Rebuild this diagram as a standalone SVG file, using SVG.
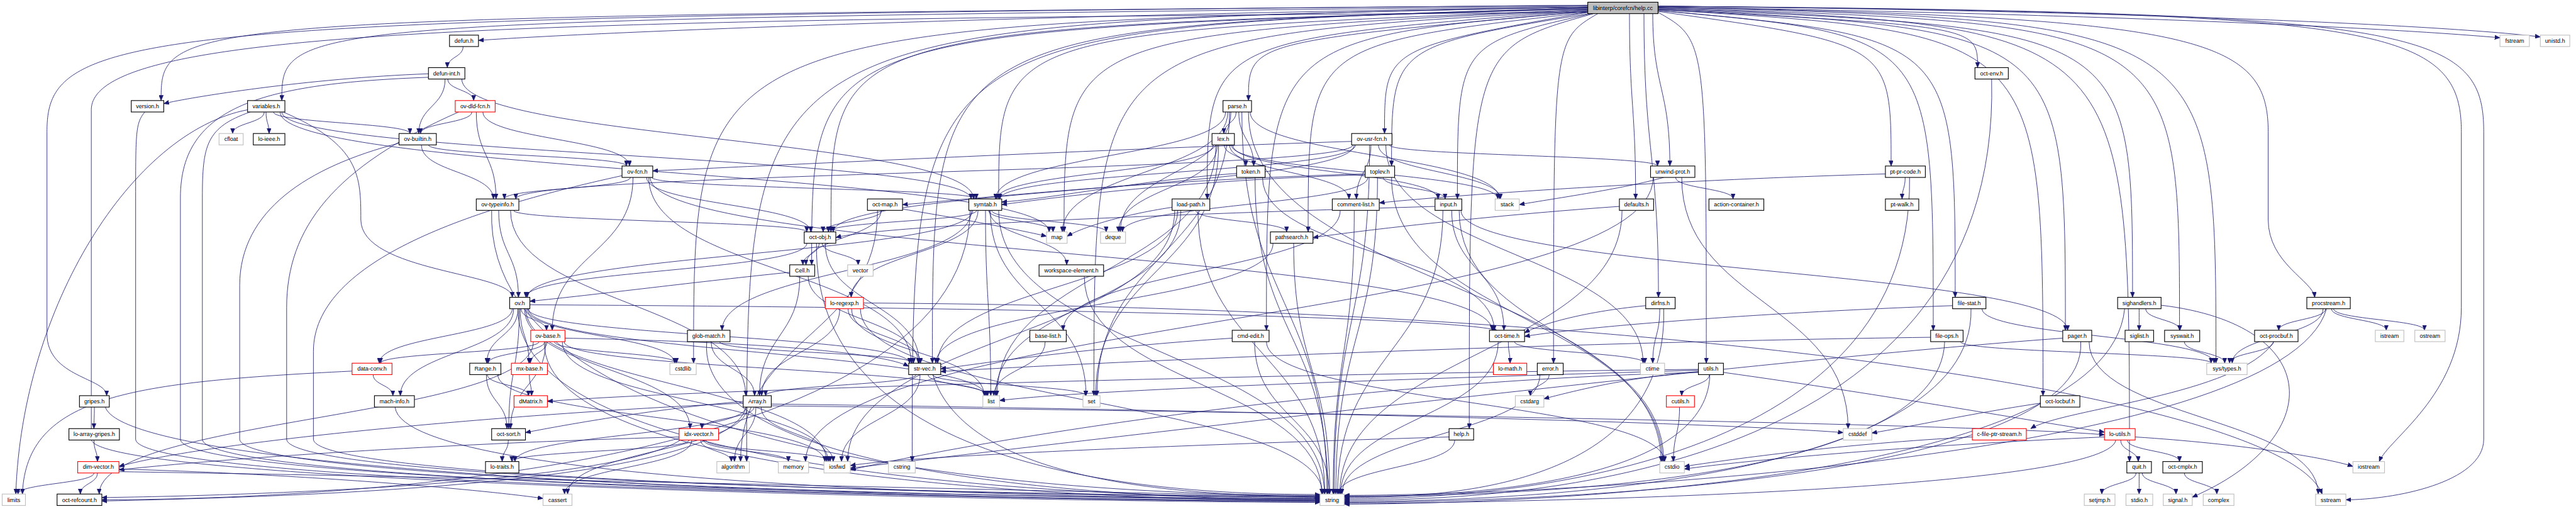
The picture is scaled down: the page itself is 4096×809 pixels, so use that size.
<svg xmlns="http://www.w3.org/2000/svg" width="4096" height="809" viewBox="0 0 4096 809">
<style>
.e path{fill:none;stroke:#191970;stroke-width:1.2;marker-end:url(#a)}
.n rect{fill:#fff;stroke:#000;stroke-width:1.6}
.r rect{stroke:#ff0000}
.g rect{stroke:#bfbfbf}
.h rect{fill:#bfbfbf}
.n text{font-family:"Liberation Sans",Arial,sans-serif;font-size:13px;text-anchor:middle;fill:#000}
</style>
<defs>
<marker id="a" markerWidth="12" markerHeight="10" refX="12" refY="5" orient="auto" markerUnits="userSpaceOnUse"><path d="M0,0L12,5L0,10z" fill="#191970" stroke="#191970" stroke-width="0.8"/></marker>
</defs>
<rect width="4096" height="809" fill="#fff"/>
<g transform="scale(0.698)">
<g id="edges" class="e">
<path d="M3617,12 C367,40 367,40 367,229"/>
<path d="M3617,14 C642,48 642,48 642,229"/>
<path d="M3617,16 C2500,30 1400,70 1090,92"/>
<path d="M3617,12 C300,40 107,60 107,300 L107,760 C107,860 243,860 243,901"/>
<path d="M3617,20 C1849,70 1849,70 1849,603"/>
<path d="M3617,20 C1893,66 1893,66 1893,528"/>
<path d="M3617,22 C2275,75 2275,75 2275,453"/>
<path d="M3617,18 C2124,62 2124,62 2124,827"/>
<path d="M3617,16 C1580,58 1580,58 1580,827"/>
<path d="M3617,16 C1701,54 1701,54 1701,1051"/>
<path d="M3617,18 C2078,64 2078,64 2078,1051"/>
<path d="M3617,22 C2424,80 2424,80 2424,528"/>
<path d="M3617,24 C2492,85 2492,85 2492,901"/>
<path d="M3617,24 C2750,90 2750,90 2750,453"/>
<path d="M3617,26 C2844,95 2844,95 2844,229"/>
<path d="M3617,26 C2885,88 2885,88 2885,752"/>
<path d="M3617,28 C2980,100 2980,100 2980,528"/>
<path d="M3617,28 C1200,45 208,60 208,250 L208,1000 C208,1105 2500,1144 3007,1144"/>
<path d="M3617,28 C3154,110 3154,110 3154,304"/>
<path d="M3620,31 C3170,105 3170,105 3170,378"/>
<path d="M3625,31 C3320,100 3320,100 3320,453"/>
<path d="M3630,31 C3347,110 3347,110 3347,976"/>
<path d="M3640,31 C3539,90 3539,90 3539,827"/>
<path d="M3712,31 C3712,240 3726,240 3726,453"/>
<path d="M3745,31 C3745,350 3778,350 3778,677"/>
<path d="M3765,31 C3765,200 3804,200 3804,378"/>
<path d="M3777,28 C3887,90 3887,90 3887,827"/>
<path d="M3777,26 C4308,100 4308,100 4308,378"/>
<path d="M3777,24 C4404,80 4404,80 4404,752"/>
<path d="M3777,24 C4454,85 4454,85 4454,677"/>
<path d="M3777,22 C4505,60 4505,60 4505,154"/>
<path d="M3777,22 C4654,75 4654,75 4654,901"/>
<path d="M3777,20 C4705,70 4705,70 4705,752"/>
<path d="M3777,20 C4858,65 4858,65 4858,677"/>
<path d="M3777,18 C4851,60 4851,60 4851,1051"/>
<path d="M3777,18 C4965,55 4965,55 4965,752"/>
<path d="M3777,16 C5048,50 5048,50 5048,827"/>
<path d="M3777,16 C5000,40 5167,80 5167,300 L5167,500 C5167,600 5270,640 5273,677"/>
<path d="M3777,14 C5400,30 5607,50 5607,300 L5607,700 C5607,900 5440,1000 5420,1051"/>
<path d="M3777,14 C5500,28 5658,60 5658,300 L5658,1000 C5658,1100 5450,1138 5344,1138"/>
<path d="M3777,16 C4700,30 5400,60 5695,86"/>
<path d="M3777,14 C4800,24 5550,55 5787,84"/>
<path d="M1055,106 C1055,130 1019,130 1019,154"/>
<path d="M976,176 C600,190 411,240 411,450 L411,1000 C411,1105 2500,1136 3007,1136"/>
<path d="M1014,180 C1014,242 954,242 954,304"/>
<path d="M1020,180 C1020,205 1079,205 1079,229"/>
<path d="M1052,180 C1052,316 2218,316 2218,453"/>
<path d="M976,168 C700,178 430,222 373,236"/>
<path d="M330,255 C309,280 309,300 309,450 L309,1000 C309,1108 2500,1140 3007,1140"/>
<path d="M602,255 C602,280 530,280 530,304"/>
<path d="M606,255 C606,280 613,280 613,304"/>
<path d="M623,255 C623,280 934,280 934,304"/>
<path d="M642,255 C642,354 2212,354 2212,453"/>
<path d="M645,255 C820,330 822,400 822,500 C822,620 1167,620 1167,677"/>
<path d="M638,255 C638,392 2390,392 2390,528"/>
<path d="M570,255 C470,290 461,330 461,450 L461,1000 C461,1105 2500,1142 3007,1142"/>
<path d="M564,250 C300,300 50,700 36,1125"/>
<path d="M909,326 C700,380 546,480 546,650 L546,1000 C546,1100 2500,1138 3007,1138"/>
<path d="M976,330 C976,354 1427,354 1427,378"/>
<path d="M960,330 C960,392 1124,392 1124,453"/>
<path d="M1075,255 C1075,280 958,280 958,304"/>
<path d="M1100,255 C1100,317 1434,317 1434,378"/>
<path d="M1085,255 C1085,354 1130,354 1130,453"/>
<path d="M1045,255 C760,380 653,520 653,700 L653,1000 C653,1100 2500,1130 3007,1130"/>
<path d="M1436,404 C1436,429 1149,429 1149,453"/>
<path d="M1473,404 C1473,466 1847,466 1847,528"/>
<path d="M1442,404 C1442,578 1258,578 1258,752"/>
<path d="M1481,404 C1481,578 3399,578 3399,752"/>
<path d="M1478,404 C1478,616 2076,616 2076,827"/>
<path d="M1485,404 C1485,429 2224,429 2224,453"/>
<path d="M1417,400 C1050,480 714,600 714,800 L714,1000 C714,1100 2500,1132 3007,1132"/>
<path d="M3157,330 C3157,579 3743,579 3743,827"/>
<path d="M3120,330 C3120,728 3039,728 3039,1125"/>
<path d="M3140,330 C3140,392 3418,392 3418,453"/>
<path d="M3123,330 C3123,392 3090,392 3090,453"/>
<path d="M3085,330 C3085,429 1898,429 1898,528"/>
<path d="M3079,322 C2500,340 1700,380 1487,389"/>
<path d="M3082,330 C3082,392 1175,392 1175,453"/>
<path d="M3088,330 C3088,392 2278,392 2278,453"/>
<path d="M3165,330 C3165,354 3776,354 3776,378"/>
<path d="M3170,404 C3170,728 3787,728 3787,1051"/>
<path d="M3116,404 C3116,466 2557,466 2557,528"/>
<path d="M3138,404 C3138,765 3043,765 3043,1125"/>
<path d="M3151,404 C3151,429 3292,429 3292,453"/>
<path d="M3110,396 C2600,410 2200,455 2056,466"/>
<path d="M3110,398 C2700,410 2400,450 2282,466"/>
<path d="M3324,479 C3324,765 3790,765 3790,1051"/>
<path d="M3287,479 C3287,802 3047,802 3047,1125"/>
<path d="M3307,479 C3307,616 3426,616 3426,752"/>
<path d="M3269,470 C2600,490 2000,515 1904,541"/>
<path d="M3328,479 C3328,616 4710,616 4710,752"/>
<path d="M3085,479 C3085,802 3037,802 3037,1125"/>
<path d="M3053,479 C3053,616 2422,616 2422,752"/>
<path d="M2773,330 C2773,429 2548,429 2548,528"/>
<path d="M2770,330 C2770,616 2271,616 2271,901"/>
<path d="M2776,330 C2776,616 2496,616 2496,901"/>
<path d="M2805,330 C2805,392 3412,392 3412,453"/>
<path d="M2801,330 C2801,392 3073,392 3073,453"/>
<path d="M2808,330 C2808,392 3276,392 3276,453"/>
<path d="M2764,330 C2764,392 2271,392 2271,453"/>
<path d="M2789,330 C2789,354 2838,354 2838,378"/>
<path d="M2844,255 C2844,653 3784,653 3784,1051"/>
<path d="M2804,255 C2804,392 2552,392 2552,528"/>
<path d="M2797,255 C2797,392 2420,392 2420,528"/>
<path d="M2801,255 C2801,578 2499,578 2499,901"/>
<path d="M2829,255 C2829,690 3023,690 3023,1125"/>
<path d="M2848,255 C2848,354 3416,354 3416,453"/>
<path d="M2816,255 C2816,280 2788,280 2788,304"/>
<path d="M2792,255 C2792,354 2268,354 2268,453"/>
<path d="M2822,255 C2822,317 2856,317 2856,378"/>
<path d="M2859,404 C2859,765 3025,765 3025,1125"/>
<path d="M2817,395 C2600,410 2400,452 2282,460"/>
<path d="M2876,404 C2876,578 3404,578 3404,752"/>
<path d="M3790,404 C3700,430 3520,455 3461,466"/>
<path d="M3817,404 C3817,429 3948,429 3948,453"/>
<path d="M3831,404 C3831,690 4210,690 4210,976"/>
<path d="M3766,404 C3766,728 1835,728 1835,1051"/>
<path d="M4340,404 C4340,429 4333,429 4333,453"/>
<path d="M4295,396 C3800,410 3300,445 3142,462"/>
<path d="M4350,404 C4360,1110 3300,1136 3062,1136"/>
<path d="M3695,479 C3695,802 3052,802 3052,1125"/>
<path d="M3689,470 C3400,490 3100,525 2991,541"/>
<path d="M2676,479 C2676,765 1931,765 1931,1051"/>
<path d="M2690,479 C2690,690 2268,690 2268,901"/>
<path d="M2670,472 C2550,490 2460,520 2431,538"/>
<path d="M2729,479 C2729,802 3018,802 3018,1125"/>
<path d="M2724,479 C2724,504 2931,504 2931,528"/>
<path d="M2683,479 C2683,653 2136,653 2136,827"/>
<path d="M2947,554 C2947,840 3029,840 3029,1125"/>
<path d="M2900,554 C2900,691 2132,691 2132,827"/>
<path d="M2259,479 C2259,504 2520,504 2520,528"/>
<path d="M2245,479 C2245,690 2257,690 2257,901"/>
<path d="M2252,479 C2252,504 2399,504 2399,528"/>
<path d="M2256,479 C2256,690 2474,690 2474,901"/>
<path d="M2275,479 C2275,802 3017,802 3017,1125"/>
<path d="M2213,479 C2213,616 1645,616 1645,752"/>
<path d="M2228,479 C2228,578 1939,578 1939,677"/>
<path d="M2225,479 C2225,504 1887,504 1887,528"/>
<path d="M2254,479 C2254,541 2430,541 2430,603"/>
<path d="M2210,479 C2200,1100 600,1138 232,1138"/>
<path d="M2216,479 C2216,578 1201,578 1201,677"/>
<path d="M1999,479 C1999,765 1687,765 1687,1051"/>
<path d="M2056,476 C2200,500 2330,525 2384,538"/>
<path d="M2007,479 C2007,541 1836,541 1836,603"/>
<path d="M2009,479 C2009,504 1875,504 1875,528"/>
<path d="M1120,479 C1100,1100 2650,1128 3007,1128"/>
<path d="M1163,479 C1163,690 1699,690 1699,901"/>
<path d="M1170,479 C1170,504 1838,504 1838,528"/>
<path d="M1136,479 C1136,578 1181,578 1181,677"/>
<path d="M1860,554 C1850,1100 2700,1126 3007,1126"/>
<path d="M1873,554 C1873,579 1955,579 1955,603"/>
<path d="M1880,554 C1880,691 2094,691 2094,827"/>
<path d="M1838,554 C1838,616 1198,616 1198,677"/>
<path d="M1866,554 C1866,579 1829,579 1829,603"/>
<path d="M1822,629 C1822,765 1730,765 1730,901"/>
<path d="M1841,629 C1841,728 2092,728 2092,827"/>
<path d="M1799,620 C1600,640 1350,672 1207,686"/>
<path d="M1201,703 C1201,765 1537,765 1537,827"/>
<path d="M1198,703 C1198,877 1883,877 1883,1051"/>
<path d="M1180,703 C1175,1110 2650,1134 3007,1134"/>
<path d="M1204,703 C1204,802 2245,802 2245,901"/>
<path d="M1180,703 C1180,765 1109,765 1109,827"/>
<path d="M1167,703 C1167,765 864,765 864,827"/>
<path d="M1195,703 C1195,840 1572,840 1572,976"/>
<path d="M1170,703 C1170,802 912,802 912,901"/>
<path d="M1185,703 C1185,765 1205,765 1205,827"/>
<path d="M1207,694 C2300,700 3300,722 3410,752"/>
<path d="M1203,703 C1203,765 2072,765 2072,827"/>
<path d="M1183,703 C1183,840 1159,840 1159,976"/>
<path d="M1187,703 C1187,728 1245,728 1245,752"/>
<path d="M1263,778 C1263,803 1541,803 1541,827"/>
<path d="M1281,778 C1281,915 1887,915 1887,1051"/>
<path d="M1285,778 C1285,840 2248,840 2248,901"/>
<path d="M1240,778 C1230,1110 2650,1140 3007,1140"/>
<path d="M1241,778 C1241,803 1112,803 1112,827"/>
<path d="M1228,778 C1228,803 867,803 867,827"/>
<path d="M1246,778 C1246,803 1208,803 1208,827"/>
<path d="M1287,770 C1700,778 2000,800 2070,834"/>
<path d="M1243,778 C1243,877 1163,877 1163,976"/>
<path d="M1215,778 C1215,952 226,952 226,1125"/>
<path d="M1134,853 C1134,952 1879,952 1879,1051"/>
<path d="M1110,853 C1110,877 1204,877 1204,901"/>
<path d="M1108,853 C1108,915 1155,915 1155,976"/>
<path d="M1206,853 C1206,877 1211,877 1211,901"/>
<path d="M802,845 C300,870 60,900 51,1125"/>
<path d="M850,853 C850,877 895,877 895,901"/>
<path d="M900,927 C920,1120 2650,1136 3007,1136"/>
<path d="M215,927 C215,952 214,952 214,976"/>
<path d="M240,927 C300,1110 2600,1142 3007,1142"/>
<path d="M214,1002 C214,1027 222,1027 222,1051"/>
<path d="M214,1077 C214,1101 41,1101 41,1125"/>
<path d="M222,1077 C222,1101 183,1101 183,1125"/>
<path d="M271,1068 C700,1080 1100,1115 1237,1135"/>
<path d="M271,1074 C1000,1085 2500,1120 3007,1132"/>
<path d="M1158,1002 C1158,1027 1144,1027 1144,1051"/>
<path d="M1702,927 C1702,1026 1293,1026 1293,1125"/>
<path d="M1757,920 C2500,930 3800,955 4199,985"/>
<path d="M1722,927 C1722,989 1673,989 1673,1051"/>
<path d="M1734,927 C1734,989 1898,989 1898,1051"/>
<path d="M1693,918 C1200,940 500,1000 271,1062"/>
<path d="M1718,927 C1718,952 1599,952 1599,976"/>
<path d="M1699,927 C1699,989 1173,989 1173,1051"/>
<path d="M1757,924 C3000,940 4500,965 4794,990"/>
<path d="M1693,914 C1500,930 1300,965 1197,985"/>
<path d="M1700,927 C1650,1110 600,1132 232,1141"/>
<path d="M1576,1002 C1576,1064 1286,1064 1286,1125"/>
<path d="M1596,1002 C1596,1027 1666,1027 1666,1051"/>
<path d="M1603,1002 C1603,1027 1796,1027 1796,1051"/>
<path d="M1608,1002 C1608,1027 1891,1027 1891,1051"/>
<path d="M1570,1002 C1570,1027 1166,1027 1166,1051"/>
<path d="M1547,995 C1000,1010 500,1045 271,1070"/>
<path d="M1550,1002 C1400,1100 600,1128 232,1133"/>
<path d="M2096,853 C2096,952 1917,952 1917,1051"/>
<path d="M2114,853 C2114,877 2250,877 2250,901"/>
<path d="M2125,853 C2125,877 2473,877 2473,901"/>
<path d="M2125,853 C2200,1100 2700,1130 3007,1130"/>
<path d="M2087,853 C2087,877 1744,877 1744,901"/>
<path d="M2381,778 C2381,840 2264,840 2264,901"/>
<path d="M1620,778 C1620,840 1719,840 1719,901"/>
<path d="M1639,778 C1639,803 2081,803 2081,827"/>
<path d="M1610,778 C1580,1110 2700,1138 3007,1138"/>
<path d="M1913,703 C1913,802 1735,802 1735,901"/>
<path d="M1932,703 C1932,765 2097,765 2097,827"/>
<path d="M1940,703 C1940,802 2242,802 2242,901"/>
<path d="M1967,690 C3800,700 5200,900 5290,1125"/>
<path d="M1960,703 C1960,914 3013,914 3013,1125"/>
<path d="M2470,629 C2470,877 3011,877 3011,1125"/>
<path d="M2885,778 C2885,915 3792,915 3792,1051"/>
<path d="M2858,778 C2858,952 3028,952 3028,1125"/>
<path d="M2807,770 C2500,790 2250,825 2143,840"/>
<path d="M3450,778 C3450,803 3747,803 3747,827"/>
<path d="M3413,778 C3413,952 3054,952 3054,1125"/>
<path d="M3436,778 C3436,803 3440,803 3440,827"/>
<path d="M3529,853 C3529,877 3486,877 3486,901"/>
<path d="M3508,853 C3508,989 3057,989 3057,1125"/>
<path d="M3781,703 C3781,765 3765,765 3765,827"/>
<path d="M3749,696 C3600,710 3500,742 3473,758"/>
<path d="M3790,703 C3800,1110 3300,1133 3062,1133"/>
<path d="M3301,995 C2800,1010 2100,1035 1937,1060"/>
<path d="M3314,1002 C3314,1064 3049,1064 3049,1125"/>
<path d="M4699,770 C4000,820 2500,1000 1937,1066"/>
<path d="M4759,778 C4759,952 5281,952 5281,1125"/>
<path d="M4740,778 C4760,1110 3400,1144 3062,1144"/>
<path d="M4430,778 C4420,1110 3400,1130 3062,1130"/>
<path d="M4466,778 C4466,803 5037,803 5037,827"/>
<path d="M4398,768 C3500,780 2500,825 2143,846"/>
<path d="M4448,696 C4000,712 3600,745 3473,766"/>
<path d="M4490,703 C4500,1110 3400,1142 3062,1142"/>
<path d="M4515,703 C4515,765 5044,765 5044,827"/>
<path d="M4537,180 C4560,1110 3400,1139 3062,1139"/>
<path d="M4873,703 C4873,728 4873,728 4873,752"/>
<path d="M4888,703 C4888,728 4966,728 4966,752"/>
<path d="M4923,695 C5300,740 5300,1000 4994,1132"/>
<path d="M4840,703 C4800,1110 3400,1148 3062,1148"/>
<path d="M4976,778 C4976,803 5068,803 5068,827"/>
<path d="M5311,703 C5311,728 5436,728 5436,752"/>
<path d="M5316,703 C5316,728 5523,728 5523,752"/>
<path d="M5292,703 C5292,765 5085,765 5085,827"/>
<path d="M5298,703 C5298,728 5191,728 5191,752"/>
<path d="M5300,703 C5200,1050 3500,1128 3062,1128"/>
<path d="M5179,778 C5179,803 5079,803 5079,827"/>
<path d="M5180,778 C5100,900 4700,930 4626,976"/>
<path d="M4493,995 C4200,1010 3950,1045 3837,1062"/>
<path d="M4648,918 C4500,940 4350,972 4264,986"/>
<path d="M3869,846 C3700,860 3580,892 3517,908"/>
<path d="M3869,848 C3000,870 2200,1010 1937,1070"/>
<path d="M3895,853 C3890,1110 3300,1131 3062,1131"/>
<path d="M3869,843 C3300,860 2500,885 2277,912"/>
<path d="M3869,841 C3000,850 1600,885 1247,914"/>
<path d="M3926,848 C4300,900 4650,962 4794,984"/>
<path d="M3894,853 C3894,877 3831,877 3831,901"/>
<path d="M3826,927 C3826,989 3812,989 3812,1051"/>
<path d="M4794,995 C4400,1012 4000,1045 3837,1068"/>
<path d="M4864,995 C5100,1010 5300,1042 5360,1062"/>
<path d="M4820,1002 C4800,1120 3400,1146 3062,1146"/>
<path d="M4831,1002 C4831,1027 4871,1027 4871,1051"/>
<path d="M4846,1002 C4846,1027 4965,1027 4965,1051"/>
<path d="M4866,1077 C4866,1101 4788,1101 4788,1125"/>
<path d="M4873,1077 C4873,1101 4873,1101 4873,1125"/>
<path d="M4880,1077 C4880,1101 4957,1101 4957,1125"/>
<path d="M4976,1077 C4976,1101 5050,1101 5050,1125"/>
</g>
<g id="nodes">
<g id="n-helpcc" class="n h"><rect x="3617" y="5" width="160" height="26"/><text x="3697" y="23">libinterp/corefcn/help.cc</text></g>
<g id="n-defun" class="n"><rect x="1024" y="80" width="66" height="26"/><text x="1057" y="97">defun.h</text></g>
<g id="n-fstream" class="n g"><rect x="5695" y="80" width="67" height="26"/><text x="5728.5" y="97">fstream</text></g>
<g id="n-unistd" class="n g"><rect x="5787" y="80" width="67" height="26"/><text x="5820.5" y="97">unistd.h</text></g>
<g id="n-defunint" class="n"><rect x="976" y="154" width="83" height="26"/><text x="1017.5" y="172">defun-int.h</text></g>
<g id="n-octenv" class="n"><rect x="4499" y="154" width="76" height="26"/><text x="4537" y="172">oct-env.h</text></g>
<g id="n-version" class="n"><rect x="299" y="229" width="74" height="26"/><text x="336" y="246">version.h</text></g>
<g id="n-variables" class="n"><rect x="564" y="229" width="85" height="26"/><text x="606.5" y="246">variables.h</text></g>
<g id="n-ovdld" class="n r"><rect x="1037" y="229" width="91" height="26"/><text x="1082.5" y="246">ov-dld-fcn.h</text></g>
<g id="n-parse" class="n"><rect x="2786" y="229" width="65" height="26"/><text x="2818.5" y="246">parse.h</text></g>
<g id="n-cfloat" class="n g"><rect x="499" y="304" width="55" height="26"/><text x="526.5" y="321">cfloat</text></g>
<g id="n-loieee" class="n"><rect x="577" y="304" width="72" height="26"/><text x="613" y="321">lo-ieee.h</text></g>
<g id="n-ovbuiltin" class="n"><rect x="909" y="304" width="85" height="26"/><text x="951.5" y="321">ov-builtin.h</text></g>
<g id="n-lex" class="n"><rect x="2761" y="304" width="51" height="26"/><text x="2786.5" y="321">lex.h</text></g>
<g id="n-ovusr" class="n"><rect x="3079" y="304" width="92" height="26"/><text x="3125" y="321">ov-usr-fcn.h</text></g>
<g id="n-ovfcn" class="n"><rect x="1417" y="378" width="70" height="26"/><text x="1452" y="396">ov-fcn.h</text></g>
<g id="n-token" class="n"><rect x="2817" y="378" width="65" height="26"/><text x="2849.5" y="396">token.h</text></g>
<g id="n-toplev" class="n"><rect x="3110" y="378" width="67" height="26"/><text x="3143.5" y="396">toplev.h</text></g>
<g id="n-unwind" class="n"><rect x="3760" y="378" width="101" height="26"/><text x="3810.5" y="396">unwind-prot.h</text></g>
<g id="n-ptpr" class="n"><rect x="4295" y="378" width="91" height="26"/><text x="4340.5" y="396">pt-pr-code.h</text></g>
<g id="n-ovtype" class="n"><rect x="1085" y="453" width="97" height="26"/><text x="1133.5" y="470">ov-typeinfo.h</text></g>
<g id="n-octmap" class="n"><rect x="1976" y="453" width="80" height="26"/><text x="2016" y="470">oct-map.h</text></g>
<g id="n-symtab" class="n"><rect x="2207" y="453" width="75" height="26"/><text x="2244.5" y="470">symtab.h</text></g>
<g id="n-loadpath" class="n"><rect x="2670" y="453" width="86" height="26"/><text x="2713" y="470">load-path.h</text></g>
<g id="n-commentlist" class="n"><rect x="3035" y="453" width="107" height="26"/><text x="3088.5" y="470">comment-list.h</text></g>
<g id="n-input" class="n"><rect x="3269" y="453" width="61" height="26"/><text x="3299.5" y="470">input.h</text></g>
<g id="n-stack" class="n g"><rect x="3406" y="453" width="55" height="26"/><text x="3433.5" y="470">stack</text></g>
<g id="n-defaults" class="n"><rect x="3689" y="453" width="78" height="26"/><text x="3728" y="470">defaults.h</text></g>
<g id="n-actioncont" class="n"><rect x="3893" y="453" width="125" height="26"/><text x="3955.5" y="470">action-container.h</text></g>
<g id="n-ptwalk" class="n"><rect x="4295" y="453" width="76" height="26"/><text x="4333" y="470">pt-walk.h</text></g>
<g id="n-octobj" class="n"><rect x="1832" y="528" width="72" height="26"/><text x="1868" y="545">oct-obj.h</text></g>
<g id="n-map" class="n g"><rect x="2384" y="528" width="47" height="26"/><text x="2407.5" y="545">map</text></g>
<g id="n-deque" class="n g"><rect x="2507" y="528" width="57" height="26"/><text x="2535.5" y="545">deque</text></g>
<g id="n-pathsearch" class="n"><rect x="2894" y="528" width="97" height="26"/><text x="2942.5" y="545">pathsearch.h</text></g>
<g id="n-cell" class="n"><rect x="1799" y="603" width="57" height="26"/><text x="1827.5" y="620">Cell.h</text></g>
<g id="n-vector" class="n g"><rect x="1931" y="603" width="58" height="26"/><text x="1960" y="620">vector</text></g>
<g id="n-wse" class="n"><rect x="2367" y="603" width="147" height="26"/><text x="2440.5" y="620">workspace-element.h</text></g>
<g id="n-ov" class="n"><rect x="1161" y="677" width="46" height="26"/><text x="1184" y="695">ov.h</text></g>
<g id="n-loregexp" class="n r"><rect x="1880" y="677" width="87" height="26"/><text x="1923.5" y="695">lo-regexp.h</text></g>
<g id="n-dirfns" class="n"><rect x="3749" y="677" width="67" height="26"/><text x="3782.5" y="695">dirfns.h</text></g>
<g id="n-filestat" class="n"><rect x="4448" y="677" width="76" height="26"/><text x="4486" y="695">file-stat.h</text></g>
<g id="n-sighandlers" class="n"><rect x="4824" y="677" width="99" height="26"/><text x="4873.5" y="695">sighandlers.h</text></g>
<g id="n-procstream" class="n"><rect x="5255" y="677" width="99" height="26"/><text x="5304.5" y="695">procstream.h</text></g>
<g id="n-ovbase" class="n r"><rect x="1209" y="752" width="78" height="26"/><text x="1248" y="769">ov-base.h</text></g>
<g id="n-globmatch" class="n"><rect x="1566" y="752" width="97" height="26"/><text x="1614.5" y="769">glob-match.h</text></g>
<g id="n-baselist" class="n"><rect x="2346" y="752" width="83" height="26"/><text x="2387.5" y="769">base-list.h</text></g>
<g id="n-cmdedit" class="n"><rect x="2807" y="752" width="84" height="26"/><text x="2849" y="769">cmd-edit.h</text></g>
<g id="n-octtime" class="n"><rect x="3393" y="752" width="80" height="26"/><text x="3433" y="769">oct-time.h</text></g>
<g id="n-fileops" class="n"><rect x="4398" y="752" width="74" height="26"/><text x="4435" y="769">file-ops.h</text></g>
<g id="n-pager" class="n"><rect x="4699" y="752" width="66" height="26"/><text x="4732" y="769">pager.h</text></g>
<g id="n-siglist" class="n"><rect x="4841" y="752" width="65" height="26"/><text x="4873.5" y="769">siglist.h</text></g>
<g id="n-syswait" class="n"><rect x="4931" y="752" width="80" height="26"/><text x="4971" y="769">syswait.h</text></g>
<g id="n-octprocbuf" class="n"><rect x="5136" y="752" width="99" height="26"/><text x="5185.5" y="769">oct-procbuf.h</text></g>
<g id="n-istream" class="n g"><rect x="5411" y="752" width="65" height="26"/><text x="5443.5" y="769">istream</text></g>
<g id="n-ostream" class="n g"><rect x="5501" y="752" width="69" height="26"/><text x="5535.5" y="769">ostream</text></g>
<g id="n-dataconv" class="n r"><rect x="802" y="827" width="91" height="26"/><text x="847.5" y="844">data-conv.h</text></g>
<g id="n-range" class="n"><rect x="1070" y="827" width="71" height="26"/><text x="1105.5" y="844">Range.h</text></g>
<g id="n-mxbase" class="n r"><rect x="1165" y="827" width="82" height="26"/><text x="1206" y="844">mx-base.h</text></g>
<g id="n-cstdlib" class="n g"><rect x="1526" y="827" width="60" height="26"/><text x="1556" y="844">cstdlib</text></g>
<g id="n-strvec" class="n"><rect x="2070" y="827" width="73" height="26"/><text x="2106.5" y="844">str-vec.h</text></g>
<g id="n-lomath" class="n r"><rect x="3402" y="827" width="76" height="26"/><text x="3440" y="844">lo-math.h</text></g>
<g id="n-error" class="n"><rect x="3502" y="827" width="59" height="26"/><text x="3531.5" y="844">error.h</text></g>
<g id="n-ctime" class="n g"><rect x="3737" y="827" width="55" height="26"/><text x="3764.5" y="844">ctime</text></g>
<g id="n-utils" class="n"><rect x="3869" y="827" width="57" height="26"/><text x="3897.5" y="844">utils.h</text></g>
<g id="n-systypes" class="n g"><rect x="5027" y="827" width="92" height="26"/><text x="5073" y="844">sys/types.h</text></g>
<g id="n-gripes" class="n"><rect x="181" y="901" width="68" height="26"/><text x="215" y="919">gripes.h</text></g>
<g id="n-machinfo" class="n"><rect x="853" y="901" width="91" height="26"/><text x="898.5" y="919">mach-info.h</text></g>
<g id="n-dmatrix" class="n r"><rect x="1171" y="901" width="76" height="26"/><text x="1209" y="919">dMatrix.h</text></g>
<g id="n-array" class="n"><rect x="1693" y="901" width="64" height="26"/><text x="1725" y="919">Array.h</text></g>
<g id="n-list" class="n g"><rect x="2239" y="901" width="38" height="26"/><text x="2258" y="919">list</text></g>
<g id="n-set" class="n g"><rect x="2467" y="901" width="39" height="26"/><text x="2486.5" y="919">set</text></g>
<g id="n-cstdarg" class="n g"><rect x="3452" y="901" width="65" height="26"/><text x="3484.5" y="919">cstdarg</text></g>
<g id="n-cutils" class="n r"><rect x="3796" y="901" width="64" height="26"/><text x="3828" y="919">cutils.h</text></g>
<g id="n-octlocbuf" class="n"><rect x="4648" y="901" width="90" height="26"/><text x="4693" y="919">oct-locbuf.h</text></g>
<g id="n-loarraygripes" class="n"><rect x="157" y="976" width="115" height="26"/><text x="214.5" y="993">lo-array-gripes.h</text></g>
<g id="n-octsort" class="n"><rect x="1120" y="976" width="77" height="26"/><text x="1158.5" y="993">oct-sort.h</text></g>
<g id="n-idxvector" class="n r"><rect x="1547" y="976" width="90" height="26"/><text x="1592" y="993">idx-vector.h</text></g>
<g id="n-helph" class="n"><rect x="3301" y="976" width="56" height="26"/><text x="3329" y="993">help.h</text></g>
<g id="n-cstddef" class="n g"><rect x="4199" y="976" width="65" height="26"/><text x="4231.5" y="993">cstddef</text></g>
<g id="n-cfileptr" class="n r"><rect x="4493" y="976" width="123" height="26"/><text x="4554.5" y="993">c-file-ptr-stream.h</text></g>
<g id="n-loutils" class="n r"><rect x="4794" y="976" width="70" height="26"/><text x="4829" y="993">lo-utils.h</text></g>
<g id="n-dimvector" class="n r"><rect x="177" y="1051" width="94" height="26"/><text x="224" y="1068">dim-vector.h</text></g>
<g id="n-lotraits" class="n"><rect x="1106" y="1051" width="76" height="26"/><text x="1144" y="1068">lo-traits.h</text></g>
<g id="n-algorithm" class="n g"><rect x="1633" y="1051" width="74" height="26"/><text x="1670" y="1068">algorithm</text></g>
<g id="n-memory" class="n g"><rect x="1773" y="1051" width="69" height="26"/><text x="1807.5" y="1068">memory</text></g>
<g id="n-iosfwd" class="n g"><rect x="1877" y="1051" width="60" height="26"/><text x="1907" y="1068">iosfwd</text></g>
<g id="n-cstring" class="n g"><rect x="2024" y="1051" width="61" height="26"/><text x="2054.5" y="1068">cstring</text></g>
<g id="n-cstdio" class="n g"><rect x="3781" y="1051" width="56" height="26"/><text x="3809" y="1068">cstdio</text></g>
<g id="n-quit" class="n"><rect x="4845" y="1051" width="56" height="26"/><text x="4873" y="1068">quit.h</text></g>
<g id="n-octcmplx" class="n"><rect x="4927" y="1051" width="90" height="26"/><text x="4972" y="1068">oct-cmplx.h</text></g>
<g id="n-iostream" class="n g"><rect x="5360" y="1051" width="72" height="26"/><text x="5396" y="1068">iostream</text></g>
<g id="n-limits" class="n g"><rect x="5" y="1125" width="53" height="26"/><text x="31.5" y="1143">limits</text></g>
<g id="n-octrefcount" class="n"><rect x="130" y="1125" width="102" height="26"/><text x="181" y="1143">oct-refcount.h</text></g>
<g id="n-cassert" class="n g"><rect x="1237" y="1125" width="66" height="26"/><text x="1270" y="1143">cassert</text></g>
<g id="n-string" class="n g"><rect x="3007" y="1125" width="55" height="26"/><text x="3034.5" y="1143">string</text></g>
<g id="n-setjmp" class="n g"><rect x="4748" y="1125" width="70" height="26"/><text x="4783" y="1143">setjmp.h</text></g>
<g id="n-stdioh" class="n g"><rect x="4843" y="1125" width="61" height="26"/><text x="4873.5" y="1143">stdio.h</text></g>
<g id="n-signal" class="n g"><rect x="4928" y="1125" width="66" height="26"/><text x="4961" y="1143">signal.h</text></g>
<g id="n-complex" class="n g"><rect x="5019" y="1125" width="70" height="26"/><text x="5054" y="1143">complex</text></g>
<g id="n-sstream" class="n g"><rect x="5275" y="1125" width="69" height="26"/><text x="5309.5" y="1143">sstream</text></g>
</g>
</g>
</svg>
